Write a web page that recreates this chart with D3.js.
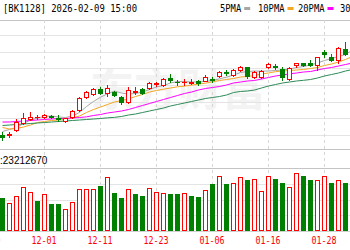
<!DOCTYPE html>
<html><head><meta charset="utf-8">
<script src="https://cdn.jsdelivr.net/npm/d3@7/dist/d3.min.js"></script>
<style>html,body{margin:0;padding:0;background:#fff;}svg{display:block;}</style>
</head><body>
<svg id="c" width="350" height="250"></svg>
<script>
// ---------- data ----------
const allDates = ["11-19","11-20","11-21","11-24","11-25","11-26","11-27","11-28",
  "12-01","12-02","12-03","12-04","12-05","12-08","12-09","12-10","12-11","12-12",
  "12-15","12-16","12-17","12-18","12-19","12-22","12-23","12-24","12-25","12-26",
  "12-29","12-30","12-31","01-05","01-06","01-07","01-08","01-09","01-12","01-13",
  "01-14","01-15","01-16","01-19","01-20","01-21","01-22","01-23","01-26","01-27",
  "01-28","01-29","01-30","02-02","02-03"];
const candleDates = allDates.slice(2);
const priorClose = 1024;
const open  = [1018,1017,1033,1052,1064,1070.5,1072,1074,1069,1060,1070,1092,1130,1140,1155,1142,1145,1130,1115,1145,1155,1157,1170,1167,1188,1176,1174,1172,1178,1180,1185,1193,1206,1197,1212,1220,1190,1190,1220,1225,1215,1185,1228,1232,1232,1227,1265,1252,1242,1275,1276];
const high  = [1026,1026,1066,1082,1087,1078,1081,1075,1075,1069,1092,1131,1150,1158,1160,1168,1150,1135,1160,1160,1157,1175,1175,1188,1200,1182,1185,1185,1182,1197,1190,1210,1212,1215,1225,1222,1210,1212,1232,1230,1220,1222,1233,1233,1242,1252,1272,1260,1282,1295,1321];
const low   = [1003,1009,1030,1050,1062,1065,1068,1069,1058,1056,1068,1090,1128,1138,1140,1135,1135,1110,1112,1140,1140,1155,1165,1165,1175,1168,1168,1170,1168,1178,1175,1190,1197,1195,1210,1188,1188,1188,1217,1215,1182,1182,1222,1225,1225,1212,1252,1238,1232,1258,1270];
const close = [1012,1019,1055,1069,1072,1071.5,1078,1070,1066,1068,1088,1128,1145,1155,1143,1158,1137,1115,1152,1150,1142,1172,1173,1185,1182,1174,1176,1175,1172,1190,1182,1207,1204,1212,1222,1195,1205,1210,1230,1220,1192,1218,1232,1228,1227,1250,1260,1242,1278,1260,1318];
const volume = [15.9,13.8,17.2,21.3,18.9,14.6,17.9,13.0,13.0,10.6,14.1,20.3,20.3,20.3,22.1,26.5,18.7,15.9,20.3,17.9,17.2,20.8,18.9,18.4,17.9,18.0,18.4,17.2,16.4,20.0,22.9,27.0,22.8,23.3,26.2,24.9,25.2,19.7,27.0,25.2,23.6,21.6,28.1,27.0,24.9,24.9,27.0,23.6,24.9,23.6,24.4];
const ma5  = [1027,1033,1039,1051,1061.5,1067.5,1072,1073.5,1070.5,1069,1073.5,1084,1102,1117,1130,1140,1148.5,1142.5,1139.5,1141,1145.5,1153,1160.5,1165,1172.5,1177,1177,1175.5,1175.5,1177,1180,1185,1190,1196.5,1204,1207,1208.5,1208,1208.5,1210,1211.5,1214.5,1219,1222,1226.5,1232.5,1240,1246,1252,1258,1271.5];
const ma10 = [1039,1034.5,1036,1040.5,1046.5,1054,1057,1060,1061.5,1063,1067.5,1073.5,1084,1093,1100.5,1108,1115.5,1120,1124.5,1132,1138,1145.5,1150,1153.9,1157.5,1161.1,1163,1166,1169,1172,1176,1180,1183,1186,1190.5,1192,1195,1199.5,1202.5,1206.4,1208.5,1210,1211.5,1213,1216,1219,1225,1229.5,1235.5,1243,1252];
const ma20 = [1055.5,1055.5,1057,1058.5,1060,1061.5,1063,1064.5,1066,1066,1067.5,1069,1071,1075,1078,1082.5,1085.5,1088.5,1093,1099,1105,1111,1117,1123,1129,1135,1141,1145.5,1151.5,1156,1159,1162,1166.5,1172.5,1175.5,1178.5,1180,1184.5,1189,1193.5,1196.5,1200,1202.5,1205.5,1207,1211.5,1216,1219,1223.5,1228,1232.5];
const ma30 = [1045,1046.5,1048,1049.5,1051,1052.5,1054,1055.5,1057,1058.5,1060,1061.5,1063,1064.5,1066,1068,1069.5,1072,1076.5,1079.5,1084,1088.5,1093,1097.5,1103.5,1108,1112.5,1117,1121.5,1126,1129,1132,1136.5,1144,1147,1148.5,1151.5,1157.5,1163.5,1168,1172.5,1175.5,1178.5,1180.6,1183,1187.5,1193.5,1198,1202.5,1208.5,1213];
const tickLabels = ["11-19","12-01","12-11","12-23","01-06","01-16","01-28"];
const priceGrid = [1015,1065,1115,1165,1215,1265,1315];
const volGrid = [7.5,15,22.5];
const headerText = "[BK1128] 2026-02-09 15:00";
const volumeText = ":23212670";
const legendNames = ["5PMA","10PMA","20PMA","30PMA"];
const maSeries = [ma5, ma10, ma20, ma30];

// ---------- style / layout ----------
const maColors = ["#a6a6a6","#f5a623","#ff00ff","#2e8b57"];
const UP = "#ff0000", DOWN = "#008000";
const legendX = [220, 258, 298, 340];

const svg = d3.select("#c");
svg.append("rect").attr("width",350).attr("height",250).attr("fill","#fff");

const x = d3.scalePoint().domain(allDates).range([-12, 352]);
const y = d3.scaleLinear().domain([1000, 1360]).range([140.5, 20.5]);
const yv = d3.scaleLinear().domain([0, 40]).range([231, 149]);
const px = v => Math.round(v);

// watermark
svg.append("text").attr("x",178).attr("y",106).attr("text-anchor","middle")
  .attr("font-family","'Noto Sans CJK SC'").attr("font-weight","bold")
  .attr("font-size",44).attr("fill","#f3f3f3").text("东方财富");

// grid
const g = svg.append("g");
g.selectAll(".hp").data(priceGrid).join("line")
  .attr("x1",0).attr("x2",350)
  .attr("y1",d=>Math.floor(y(d))+0.5).attr("y2",d=>Math.floor(y(d))+0.5)
  .attr("stroke","#e4e4e4");
g.selectAll(".hv").data(volGrid).join("line")
  .attr("x1",0).attr("x2",350)
  .attr("y1",d=>Math.floor(yv(d))+0.5).attr("y2",d=>Math.floor(yv(d))+0.5)
  .attr("stroke","#e4e4e4");
[[Math.floor(y(1360))+0.5,"#c4c4c4"],[yv(40)+0.5,"#c4c4c4"],[168.5,"#c4c4c4"],[yv(0)+0.5,"#d0d0d0"]]
  .forEach(([yy,c])=>g.append("line").attr("x1",0).attr("x2",350).attr("y1",yy).attr("y2",yy).attr("stroke",c));
g.selectAll(".vt").data(tickLabels).join("line")
  .attr("x1",d=>px(x(d))+0.5).attr("x2",d=>px(x(d))+0.5)
  .attr("y1",20).attr("y2",232)
  .attr("stroke","#d6d6d6").attr("stroke-dasharray","3,3");

// MA lines
maSeries.forEach((s,i)=>{
  const line = d3.line().x((d,j)=>x(candleDates[j])+0.5).y(d=>y(d));
  svg.append("path").attr("d",line(s)).attr("fill","none")
    .attr("stroke",maColors[i]).attr("stroke-width",1);
});

// candles
const cg = svg.append("g");
candleDates.forEach((dt,i)=>{
  const c = px(x(dt));
  const o=open[i], cl=close[i], up = cl>=o;
  const col = up?UP:DOWN;
  const top = px(y(Math.max(o,cl))), bot = px(y(Math.min(o,cl)));
  cg.append("line").attr("x1",c+0.5).attr("x2",c+0.5)
    .attr("y1",px(y(high[i]))).attr("y2",px(y(low[i]))+1).attr("stroke",col);
  if (bot-top < 1) {
    cg.append("line").attr("x1",c-2).attr("x2",c+3).attr("y1",top+0.5).attr("y2",top+0.5).attr("stroke",col);
  } else if (up) {
    cg.append("rect").attr("x",c-1.5).attr("y",top+0.5).attr("width",4).attr("height",bot-top)
      .attr("fill","#fff").attr("stroke",col);
  } else {
    cg.append("rect").attr("x",c-2).attr("y",top).attr("width",5).attr("height",bot-top+1).attr("fill",col);
  }
});

// volume bars (colour by change vs previous close)
const vg = svg.append("g");
candleDates.forEach((dt,i)=>{
  const c = px(x(dt));
  const prev = i===0 ? priorClose : close[i-1];
  const up = close[i] > prev;
  const top = px(yv(volume[i]));
  if (up) {
    vg.append("rect").attr("x",c-1.5).attr("y",top+0.5).attr("width",4).attr("height",230-top)
      .attr("fill","#fff").attr("stroke",UP);
  } else {
    vg.append("rect").attr("x",c-2).attr("y",top).attr("width",5).attr("height",231-top).attr("fill",DOWN);
  }
});

// texts
const mono = "'DejaVu Sans Mono', monospace";
svg.append("text").attr("x",3).attr("y",12).attr("font-family",mono).attr("font-size",10.5)
  .attr("textLength",134).attr("lengthAdjust","spacingAndGlyphs").attr("fill","#000").text(headerText);

legendNames.forEach((n,i)=>{
  const tw = n.length*5.3;
  svg.append("text").attr("x",legendX[i]).attr("y",12).attr("font-family",mono).attr("font-size",10.5)
    .attr("textLength",tw).attr("lengthAdjust","spacingAndGlyphs").attr("fill","#000").text(n);
  svg.append("rect").attr("x",legendX[i]+tw+3).attr("y",7).attr("width",6).attr("height",3)
    .attr("fill",maColors[i]);
});

svg.append("text").attr("x",0).attr("y",164).attr("font-family","'Liberation Sans', Arial, sans-serif")
  .attr("font-size",10).attr("fill","#000").text(volumeText);

svg.selectAll(".xl").data(tickLabels).join("text")
  .attr("x",d=>x(d)).attr("y",244).attr("text-anchor","middle")
  .attr("font-family",mono).attr("font-size",10.5)
  .attr("textLength",25).attr("lengthAdjust","spacingAndGlyphs")
  .attr("fill",UP).text(d=>d);
</script>
</body></html>
